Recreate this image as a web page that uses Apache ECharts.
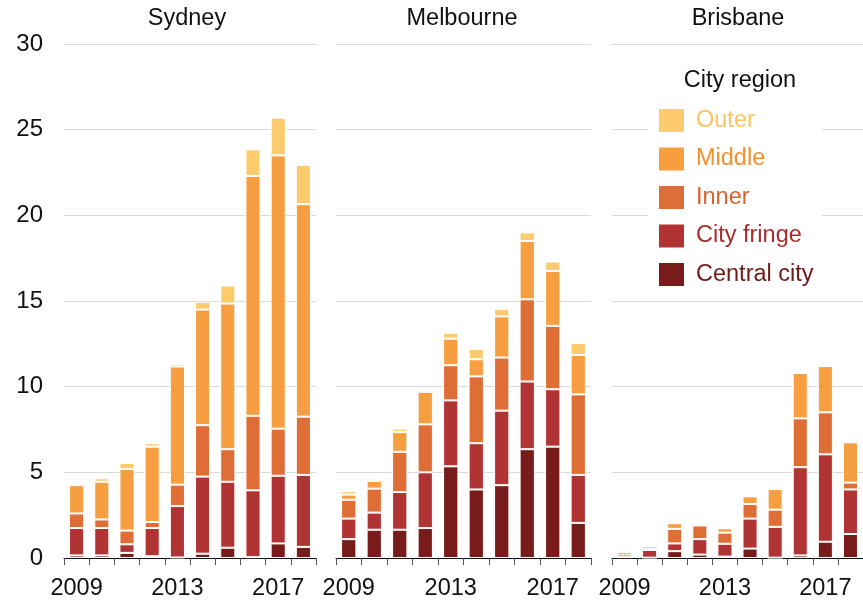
<!DOCTYPE html>
<html>
<head>
<meta charset="utf-8">
<script src="https://cdn.jsdelivr.net/npm/echarts@6/dist/echarts.min.js"></script>
<style>
  html, body { margin: 0; padding: 0; background: #fff; }
  #chart { width: 863px; height: 602px; }
</style>
</head>
<body>
<div id="chart"></div>
<script>
const years = ['2009', '2010', '2011', '2012', '2013', '2014', '2015', '2016', '2017', '2018']
const cities = ['Sydney', 'Melbourne', 'Brisbane']
const regions = ['Central city', 'City fringe', 'Inner', 'Middle', 'Outer']

const sydneyCentral = [0.15, 0.15, 0.3, 0.1, 0.03, 0.25, 0.6, 0.05, 0.85, 0.65]
const sydneyFringe = [1.6, 1.6, 0.5, 1.65, 3.0, 4.5, 3.85, 3.9, 3.95, 4.2]
const sydneyInner = [0.85, 0.5, 0.8, 0.35, 1.25, 3.0, 1.9, 4.35, 2.75, 3.4]
const sydneyMiddle = [1.65, 2.2, 3.6, 4.4, 6.9, 6.75, 8.5, 14.0, 15.95, 12.4]
const sydneyOuter = [0.1, 0.2, 0.35, 0.2, 0.15, 0.45, 1.05, 1.55, 2.2, 2.3]

const melbourneCentral = [1.1, 1.65, 1.65, 1.75, 5.35, 4.0, 4.25, 6.35, 6.5, 2.05]
const melbourneFringe = [1.2, 1.0, 2.2, 3.25, 3.85, 2.7, 4.35, 3.95, 3.35, 2.8]
const melbourneInner = [1.1, 1.4, 2.35, 2.8, 2.05, 3.9, 3.1, 4.8, 3.7, 4.7]
const melbourneMiddle = [0.3, 0.45, 1.15, 1.9, 1.55, 1.0, 2.4, 3.4, 3.2, 2.3]
const melbourneOuter = [0.2, 0.1, 0.2, 0.08, 0.35, 0.6, 0.45, 0.5, 0.55, 0.7]

const brisbaneCentral = [0.05, 0.02, 0.4, 0.2, 0.08, 0.55, 0.02, 0.15, 0.95, 1.4]
const brisbaneFringe = [0.15, 0.45, 0.45, 0.9, 0.75, 1.75, 1.8, 5.15, 5.1, 2.6]
const brisbaneInner = [0.15, 0.05, 0.85, 0.8, 0.65, 0.85, 1.0, 2.85, 2.45, 0.4]
const brisbaneMiddle = [0.12, 0.15, 0.33, 0.1, 0.25, 0.45, 1.2, 2.65, 2.7, 2.35]
const brisbaneOuter = [0.08, 0.03, 0.03, 0.05, 0, 0.02, 0, 0, 0, 0]

const cityData = [
  [sydneyCentral, sydneyFringe, sydneyInner, sydneyMiddle, sydneyOuter],
  [melbourneCentral, melbourneFringe, melbourneInner, melbourneMiddle, melbourneOuter],
  [brisbaneCentral, brisbaneFringe, brisbaneInner, brisbaneMiddle, brisbaneOuter]
]

const colors = ['#771c1a', '#b13434', '#de6e35', '#f69e40', '#fecb6c']
const textColors = ['#6e1a18', '#a52d2d', '#d9622e', '#f28f2e', '#fdc360']
const font = 'Liberation Sans, Arial, sans-serif'

// panel positions
const grids = [
  { left: 64, width: 252, top: 44, bottom: 44 },
  { left: 336, width: 255, top: 44, bottom: 44 },
  { left: 612, width: 256, top: 44, bottom: 44 }
]
const titleX = [187, 462, 738]

const chart = echarts.init(document.getElementById('chart'))

const xAxes = grids.map((g, i) => ({
  type: 'category',
  gridIndex: i,
  data: years,
  axisLine: { lineStyle: { color: '#111', width: 1 } },
  axisTick: { show: true, interval: 0, length: 7, lineStyle: { color: '#555' } },
  axisLabel: { interval: 3, margin: 19, fontSize: 23.5, color: '#111', fontFamily: font }
}))

const yAxes = grids.map((g, i) => ({
  type: 'value',
  gridIndex: i,
  min: 0,
  max: 30,
  interval: 5,
  axisLine: { show: false },
  axisTick: { show: false },
  axisLabel: { show: i === 0, margin: 21, fontSize: 24, color: '#111', fontFamily: font, padding: [6, 0, 0, 0] },
  splitLine: { lineStyle: { color: '#d9d9d9', width: 1.2 } }
}))

const series = []
cityData.forEach((rows, ci) => {
  rows.forEach((vals, ri) => {
    series.push({
      name: regions[ri],
      type: 'bar',
      stack: cities[ci],
      xAxisIndex: ci,
      yAxisIndex: ci,
      barWidth: '60%',
      data: vals,
      itemStyle: { color: colors[ri], borderColor: '#fff', borderWidth: 1 }
    })
  })
})

const option = {
  animation: false,
  grid: grids,
  xAxis: xAxes,
  yAxis: yAxes,
  legend: {
    orient: 'vertical',
    left: 648,
    top: 100,
    padding: [7, 8, 7, 9],
    itemGap: 11.5,
    itemWidth: 27,
    itemHeight: 25,
    icon: 'rect',
    backgroundColor: '#fff',
    selectedMode: false,
    textStyle: { fontSize: 23.5, fontFamily: font, padding: [0, 0, 0, 6] },
    data: regions.slice().reverse().map((r) => ({
      name: r,
      textStyle: { color: textColors[regions.indexOf(r)] }
    }))
  },
  graphic: cities.map((c, i) => ({
    type: 'text',
    x: titleX[i],
    y: 19,
    style: {
      text: c,
      fill: '#111',
      font: '23.5px ' + font,
      textAlign: 'center',
      textVerticalAlign: 'middle'
    }
  })).concat([{
    type: 'text',
    x: 740,
    y: 81,
    z: 100,
    style: {
      text: 'City region',
      fill: '#111',
      font: '23.5px ' + font,
      textAlign: 'center',
      textVerticalAlign: 'middle'
    }
  }]),
  series: series
}

chart.setOption(option)
</script>
</body>
</html>
